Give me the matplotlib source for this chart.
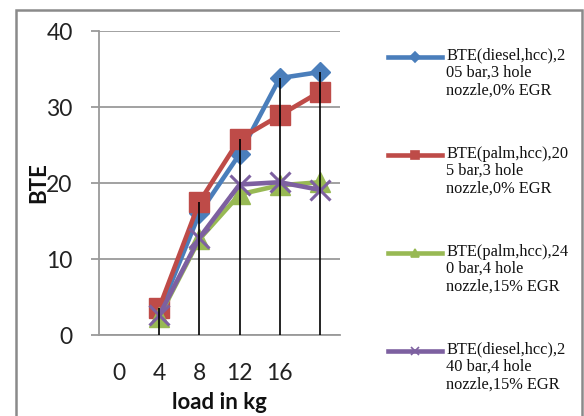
import numpy as np
import matplotlib
matplotlib.use("Agg")
import matplotlib.pyplot as plt
from matplotlib.lines import Line2D
from matplotlib.patches import Rectangle

# load categories (last one has no label) and BTE readings
loads = ["0", "4", "8", "12", "16", ""]
bte_diesel_205 = [np.nan, 3.0, 16.0, 23.8, 33.8, 34.6]
bte_palm_205 = [np.nan, 3.6, 17.5, 25.8, 28.9, 32.0]
bte_palm_240 = [np.nan, 2.4, 12.6, 18.5, 19.7, 20.1]
bte_diesel_240 = [np.nan, 2.6, 12.8, 19.8, 20.1, 19.1]

labels = [
    "BTE(diesel,hcc),2\n05 bar,3 hole\nnozzle,0% EGR",
    "BTE(palm,hcc),20\n5 bar,3 hole\nnozzle,0% EGR",
    "BTE(palm,hcc),24\n0 bar,4 hole\nnozzle,15% EGR",
    "BTE(diesel,hcc),2\n40 bar,4 hole\nnozzle,15% EGR",
]
series = [bte_diesel_205, bte_palm_205, bte_palm_240, bte_diesel_240]
colors = ["#4A7EBB", "#BE4B48", "#98B954", "#7D60A0"]
markers = ["D", "s", "^", "x"]
msizes = [10.5, 14.5, 15, 15]

W, H = 584, 416
fig = plt.figure(figsize=(W / 100, H / 100), dpi=100)
ax = fig.add_axes([99 / W, 1 - 335 / H, 241 / W, 304 / H])

x = np.arange(len(loads))
for vals, c, m, ms in zip(series, colors, markers, msizes):
    ax.plot(x, vals, color=c, lw=3.3, marker=m, ms=ms, mec=c, mfc=c,
            mew=2.2 if m == "x" else 1, zorder=3)

# drop lines from the highest point down to the axis
tops = np.nanmax(np.array(series, dtype=float), axis=0)
keep = ~np.isnan(tops)
ax.vlines(x[keep], 0, tops[keep], color="black", lw=1.2, zorder=4)

ax.set_xlim(-0.5, len(loads) - 0.5)
ax.set_ylim(0, 40)
ax.set_yticks([0, 10, 20, 30, 40])
ax.set_xticks(x)
ax.set_xticklabels(loads)
ax.grid(axis="y", color="#9A9A9A", lw=1.3)
ax.set_axisbelow(True)
for s in ["top", "right"]:
    ax.spines[s].set_visible(False)
for s in ["left", "bottom"]:
    ax.spines[s].set_color("#9A9A9A")
    ax.spines[s].set_linewidth(1.3)
ax.tick_params(axis="y", length=6, width=1.3, color="#9A9A9A", pad=13,
               labelsize=16.5, labelcolor="#222222")
ax.tick_params(axis="x", length=0, pad=20.5, labelsize=16.5, labelcolor="#222222")
for t in ax.get_xticklabels() + ax.get_yticklabels():
    t.set_fontfamily("Lato")

ax.set_xlabel("load in kg", fontfamily="Lato", fontweight="bold", fontsize=16,
              labelpad=5.5, color="#111111")
ax.set_ylabel("BTE", fontfamily="Lato", fontweight="bold", fontsize=16,
              color="#111111")
ax.yaxis.set_label_coords(-50 / 241, 0.5)

# legend drawn by hand so each handle sits on the first text line
leg_small = [5, 6, 6, 6]
for i, (lab, c, m, ms) in enumerate(zip(labels, colors, markers, leg_small)):
    yl = 56.5 + 98 * i
    fig.add_artist(Line2D([388 / W, 442 / W], [1 - yl / H] * 2, color=c, lw=3.3,
                          transform=fig.transFigure))
    fig.add_artist(Line2D([415 / W], [1 - yl / H], color=c, marker=m, ms=ms,
                          mec=c, mfc=c, mew=1.2, transform=fig.transFigure))
    fig.text(446 / W, 1 - (yl - 9) / H, lab, fontfamily="Liberation Serif",
             fontsize=11.8, va="top", ha="left", linespacing=1.12,
             color="#111111")

# outer chart border
fig.add_artist(Rectangle((16 / W, -0.1), 566 / W, 1.1 - 10 / H, fill=False,
                         edgecolor="#8A8A8A", lw=1.8, transform=fig.transFigure))

fig.savefig("out.png", dpi=100)
